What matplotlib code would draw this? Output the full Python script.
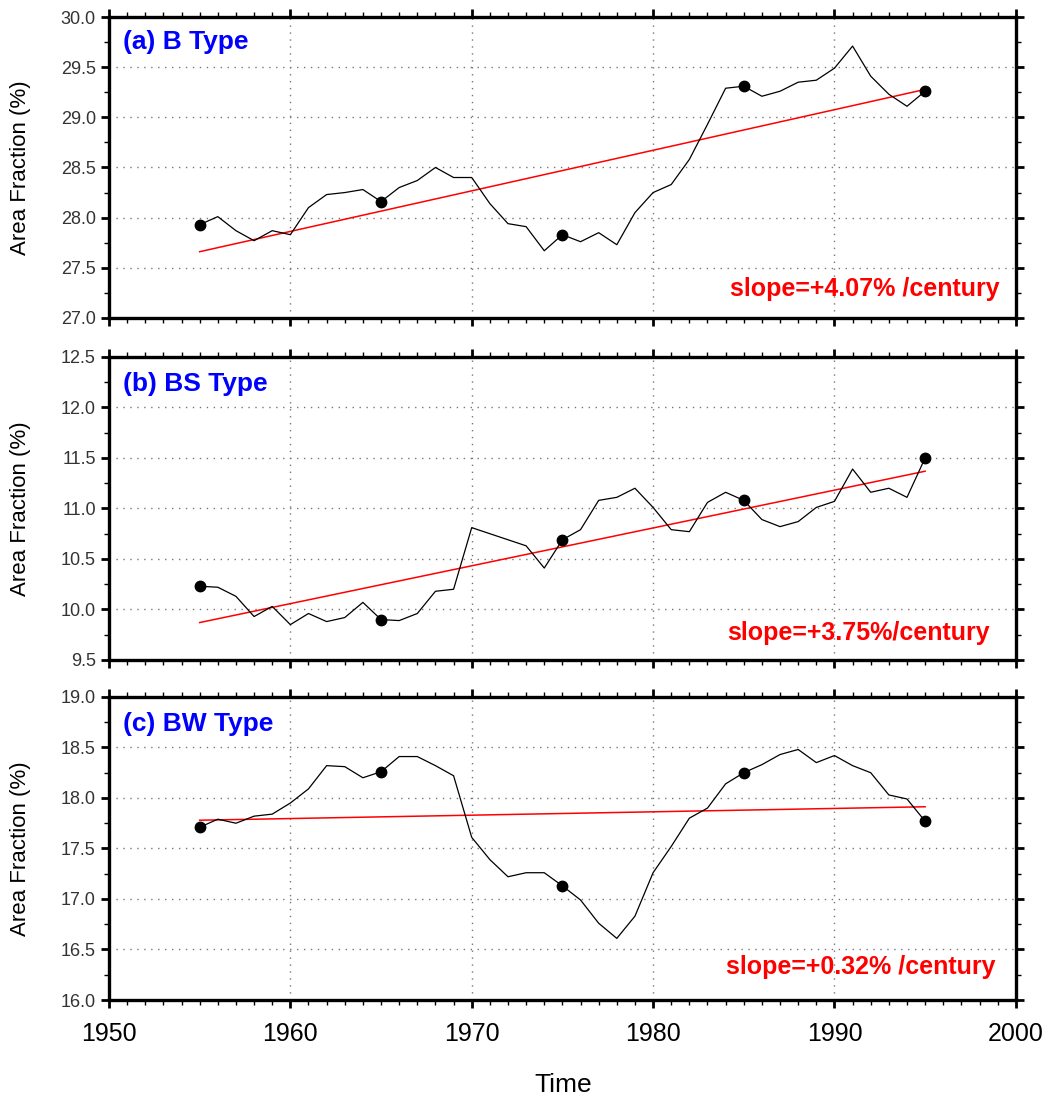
import matplotlib.pyplot as plt
import numpy as np
from matplotlib.ticker import MultipleLocator

plt.rcParams['font.family'] = ['Liberation Sans', 'DejaVu Sans']

# Yearly series, 1955-1995
years = np.arange(1955, 1996)

b_type = [27.93, 28.01, 27.87, 27.77, 27.87, 27.83, 28.10, 28.23, 28.25, 28.28,
          28.16, 28.30, 28.37, 28.50, 28.40, 28.40, 28.14, 27.94, 27.91, 27.67,
          27.83, 27.76, 27.85, 27.73, 28.05, 28.25, 28.33, 28.58, 28.93, 29.29,
          29.31, 29.21, 29.26, 29.35, 29.37, 29.49, 29.71, 29.41, 29.23, 29.11,
          29.26]

bs_type = [10.23, 10.22, 10.13, 9.93, 10.03, 9.85, 9.96, 9.88, 9.92, 10.07,
           9.90, 9.89, 9.96, 10.18, 10.20, 10.81, 10.75, 10.69, 10.63, 10.41,
           10.69, 10.79, 11.08, 11.11, 11.20, 11.01, 10.79, 10.77, 11.06, 11.16,
           11.08, 10.89, 10.82, 10.87, 11.01, 11.07, 11.39, 11.16, 11.20, 11.11,
           11.50]

bw_type = [17.71, 17.79, 17.75, 17.82, 17.84, 17.95, 18.09, 18.32, 18.31, 18.20,
           18.26, 18.41, 18.41, 18.32, 18.22, 17.61, 17.39, 17.22, 17.26, 17.26,
           17.13, 16.99, 16.76, 16.61, 16.83, 17.26, 17.52, 17.80, 17.90, 18.14,
           18.25, 18.33, 18.43, 18.48, 18.35, 18.42, 18.32, 18.25, 18.03, 17.99,
           17.77]

titles = ['(a) B Type', '(b) BS Type', '(c) BW Type']
slope_labels = ['slope=+4.07% /century', 'slope=+3.75%/century', 'slope=+0.32% /century']
y_limits = [(27.0, 30.0), (9.5, 12.5), (16.0, 19.0)]

# layout in figure fractions (left, bottom, width, height)
panel_boxes = [
    (0.1036, 0.712, 0.862, 0.2726),
    (0.1036, 0.4022, 0.862, 0.2745),
    (0.1036, 0.0942, 0.862, 0.2745),
]
title_pos = [(0.016, 0.917), (0.016, 0.911), (0.016, 0.911)]
slope_pos = [(0.982, 0.096), (0.971, 0.089), (0.978, 0.109)]

fig = plt.figure(figsize=(10.52, 11.04), dpi=100)

series = [b_type, bs_type, bw_type]
for i, vals in enumerate(series):
    ax = fig.add_axes(panel_boxes[i])
    vals = np.array(vals)

    # data line with dots every 10 years
    ax.plot(years, vals, color='black', lw=0.9,
            marker='o', markersize=7.5, markevery=10, zorder=3)

    # least squares trend line
    coef = np.polyfit(years, vals, 1)
    ax.plot(years, np.polyval(coef, years), color='red', lw=1.1, zorder=2)

    ax.set_xlim(1950, 2000)
    ax.set_ylim(*y_limits[i])
    ax.xaxis.set_major_locator(MultipleLocator(10))
    ax.xaxis.set_minor_locator(MultipleLocator(1))
    ax.yaxis.set_major_locator(MultipleLocator(0.5))
    ax.yaxis.set_minor_locator(MultipleLocator(0.25))
    ax.yaxis.set_major_formatter(plt.FormatStrFormatter('%.1f'))

    ax.grid(True, which='major', linestyle=(0, (1, 4)), color='#777777', lw=1.0)

    for sp in ax.spines.values():
        sp.set_linewidth(2.4)
    ax.tick_params(which='both', direction='out', top=True, right=True)
    ax.tick_params(which='major', length=6, width=2.0)
    ax.tick_params(which='minor', length=3.5, width=1.0)
    ax.tick_params(axis='y', labelsize=13, labelcolor='#333333')
    if i < 2:
        ax.tick_params(axis='x', labelbottom=False)
    else:
        ax.tick_params(axis='x', labelsize=18, pad=10)

    ax.set_ylabel('Area Fraction (%)', fontsize=16)
    ax.yaxis.set_label_coords(-0.086, 0.5)

    ax.text(title_pos[i][0], title_pos[i][1], titles[i], transform=ax.transAxes,
            color='#0000ff', fontsize=19, fontweight='bold', va='center', ha='left')
    ax.text(slope_pos[i][0], slope_pos[i][1], slope_labels[i], transform=ax.transAxes,
            color='red', fontsize=18, fontweight='bold', va='center', ha='right')

fig.text(0.535, 0.017, 'Time', fontsize=19, ha='center', va='center')

fig.savefig('out.png', dpi=100)
